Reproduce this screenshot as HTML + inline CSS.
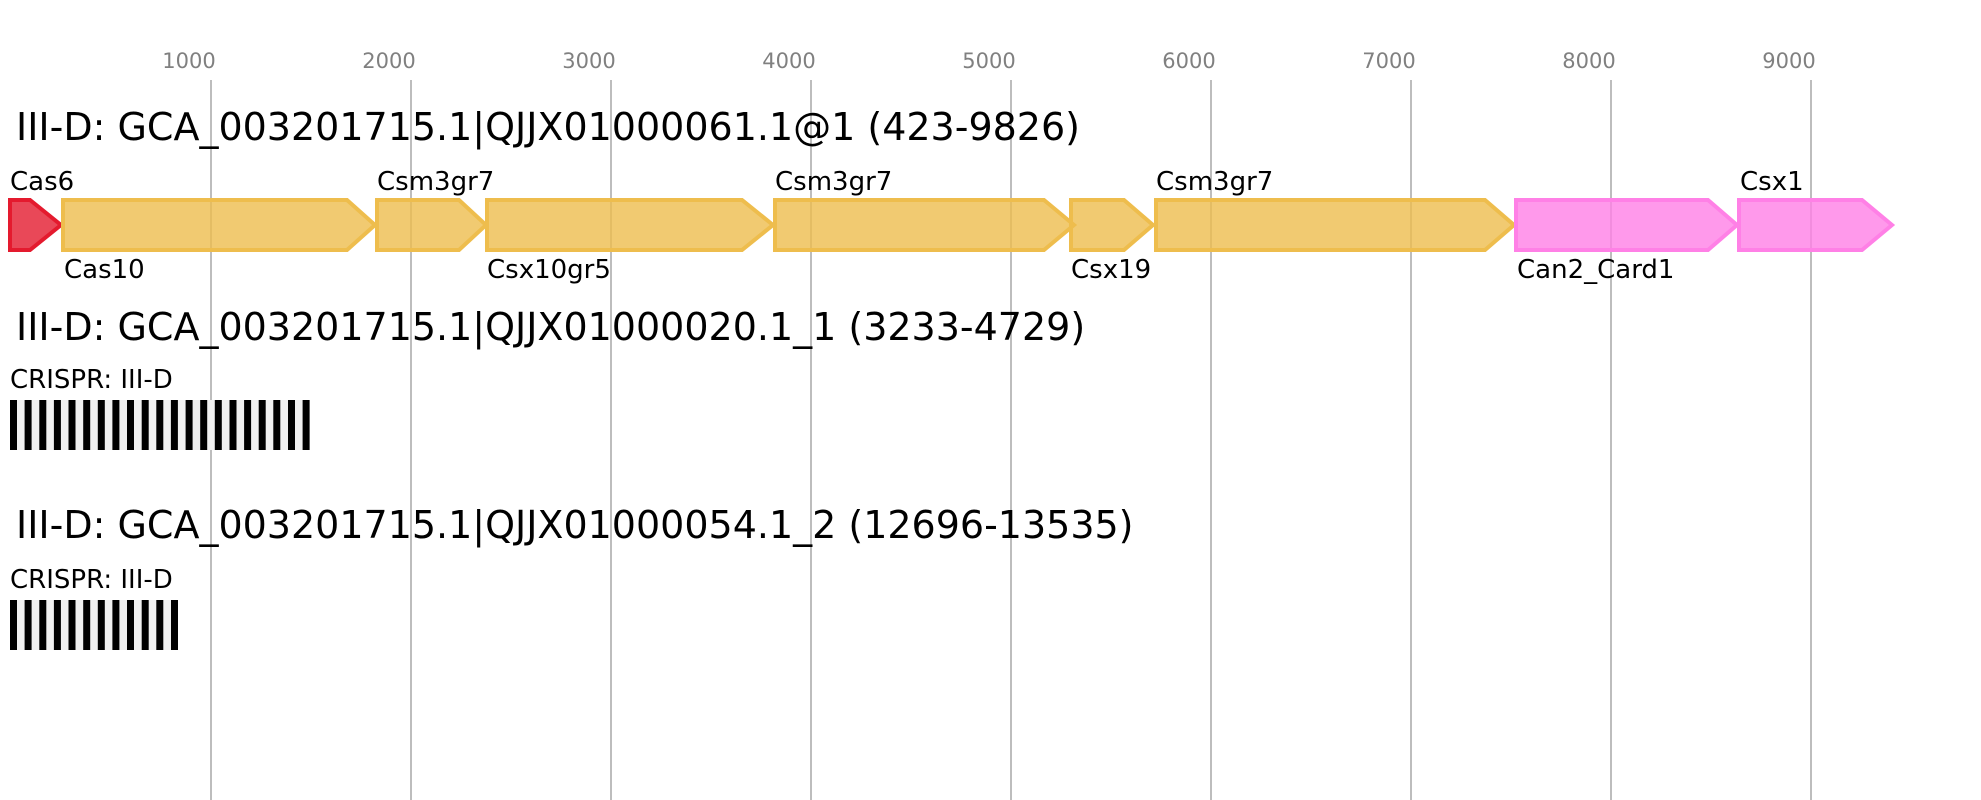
<!DOCTYPE html>
<html><head><meta charset="utf-8"><style>
html,body{margin:0;padding:0;background:#fff;}
svg{display:block;font-family:"DejaVu Sans","Liberation Sans",sans-serif;}
</style></head><body>
<svg width="1981" height="800" viewBox="0 0 1981 800" xmlns="http://www.w3.org/2000/svg">
<g stroke="#bdbdbd" stroke-width="2">
<line x1="211" y1="80" x2="211" y2="800"/>
<line x1="411" y1="80" x2="411" y2="800"/>
<line x1="611" y1="80" x2="611" y2="800"/>
<line x1="811" y1="80" x2="811" y2="800"/>
<line x1="1011" y1="80" x2="1011" y2="800"/>
<line x1="1211" y1="80" x2="1211" y2="800"/>
<line x1="1411" y1="80" x2="1411" y2="800"/>
<line x1="1611" y1="80" x2="1611" y2="800"/>
<line x1="1811" y1="80" x2="1811" y2="800"/>
</g>
<g fill="#808080" font-size="21" text-anchor="middle">
<text x="189" y="68">1000</text><text x="389" y="68">2000</text><text x="589" y="68">3000</text>
<text x="789" y="68">4000</text><text x="989" y="68">5000</text><text x="1189" y="68">6000</text>
<text x="1389" y="68">7000</text><text x="1589" y="68">8000</text><text x="1789" y="68">9000</text>
</g>
<g font-size="38" fill="#000">
<text x="16" y="140">III-D: GCA_003201715.1|QJJX01000061.1@1 (423-9826)</text>
<text x="16" y="340">III-D: GCA_003201715.1|QJJX01000020.1_1 (3233-4729)</text>
<text x="16" y="538">III-D: GCA_003201715.1|QJJX01000054.1_2 (12696-13535)</text>
</g>
<g stroke-width="4" fill-opacity="0.8">
<polygon points="10,200 30,200 61,225 30,250 10,250" fill="#e41a2e" stroke="#e41a2e" fill-opacity="0.8"/>
<g fill="#eebd4d" stroke="#eebd4d">
<polygon points="63,200 347,200 375,225 347,250 63,250"/>
<polygon points="377,200 459,200 486,225 459,250 377,250"/>
<polygon points="487,200 742,200 773,225 742,250 487,250"/>
<polygon points="775,200 1044,200 1074,225 1044,250 775,250"/>
<polygon points="1071,200 1124,200 1153,225 1124,250 1071,250"/>
<polygon points="1156,200 1485,200 1514,225 1485,250 1156,250"/>
</g>
<g fill="#ff80e6" stroke="#ff80e6">
<polygon points="1516,200 1708,200 1737,225 1708,250 1516,250"/>
<polygon points="1739,200 1862,200 1892,225 1862,250 1739,250"/>
</g>
</g>
<g font-size="26" fill="#000">
<text x="10" y="190">Cas6</text>
<text x="377" y="190">Csm3gr7</text>
<text x="775" y="190">Csm3gr7</text>
<text x="1156" y="190">Csm3gr7</text>
<text x="1740" y="190">Csx1</text>
<text x="64" y="278">Cas10</text>
<text x="487" y="278">Csx10gr5</text>
<text x="1071" y="278">Csx19</text>
<text x="1517" y="278">Can2_Card1</text>
<text x="10" y="388">CRISPR: III-D</text>
<text x="10" y="588">CRISPR: III-D</text>
</g>
<rect x="10" y="400" width="300" height="50" fill="#f0f0f0"/>
<g fill="#000">
<rect x="10" y="400" width="7" height="50"/><rect x="24.6" y="400" width="7" height="50"/><rect x="39.3" y="400" width="7" height="50"/><rect x="53.9" y="400" width="7" height="50"/><rect x="68.5" y="400" width="7" height="50"/><rect x="83.2" y="400" width="7" height="50"/><rect x="97.8" y="400" width="7" height="50"/><rect x="112.4" y="400" width="7" height="50"/><rect x="127" y="400" width="7" height="50"/><rect x="141.7" y="400" width="7" height="50"/><rect x="156.3" y="400" width="7" height="50"/><rect x="170.9" y="400" width="7" height="50"/><rect x="185.6" y="400" width="7" height="50"/><rect x="200.2" y="400" width="7" height="50"/><rect x="214.8" y="400" width="7" height="50"/><rect x="229.5" y="400" width="7" height="50"/><rect x="244.1" y="400" width="7" height="50"/><rect x="258.7" y="400" width="7" height="50"/><rect x="273.3" y="400" width="7" height="50"/><rect x="288" y="400" width="7" height="50"/><rect x="302.6" y="400" width="7" height="50"/>
</g>
<rect x="10" y="600" width="168" height="50" fill="#f0f0f0"/>
<g fill="#000">
<rect x="10" y="600" width="7" height="50"/><rect x="24.6" y="600" width="7" height="50"/><rect x="39.3" y="600" width="7" height="50"/><rect x="53.9" y="600" width="7" height="50"/><rect x="68.5" y="600" width="7" height="50"/><rect x="83.2" y="600" width="7" height="50"/><rect x="97.8" y="600" width="7" height="50"/><rect x="112.4" y="600" width="7" height="50"/><rect x="127" y="600" width="7" height="50"/><rect x="141.7" y="600" width="7" height="50"/><rect x="156.3" y="600" width="7" height="50"/><rect x="171" y="600" width="7" height="50"/>
</g>
</svg>
</body></html>
